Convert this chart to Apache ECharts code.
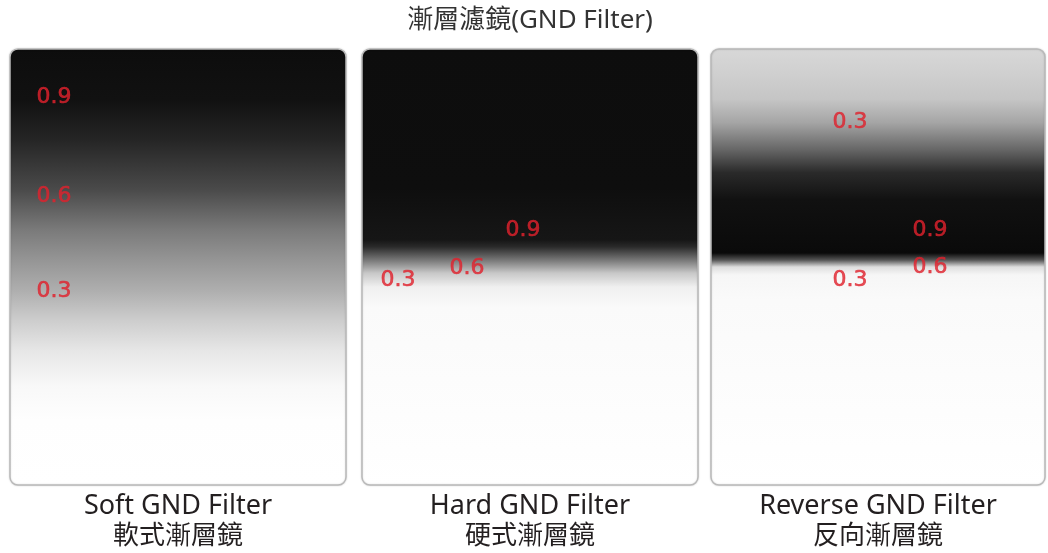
<!DOCTYPE html>
<html><head><meta charset="utf-8">
<script src="https://cdn.jsdelivr.net/npm/echarts@6/dist/echarts.min.js"></script>
<style>html,body{margin:0;padding:0;background:#fff}#c{width:1048px;height:553px}</style>
</head><body><div id="c"></div>
<script>
// ---- data ----
const chartTitle = '漸層濾鏡(GND Filter)';
const filterNames = ['Soft GND Filter', 'Hard GND Filter', 'Reverse GND Filter'];
const filterNamesZh = ['軟式漸層鏡', '硬式漸層鏡', '反向漸層鏡'];
// gradient stops: [position from top (0..1), grey level]
const softStops = [[0, '#0d0d0d'], [0.117, '#111111'], [0.209, '#252525'], [0.323, '#4a4a4a'], [0.415, '#7a7a7a'], [0.484, '#959595'], [0.553, '#aeaeae'], [0.622, '#cdcdcd'], [0.69, '#e6e6e6'], [0.77, '#f8f8f8'], [0.85, '#fefefe'], [1, '#ffffff']];
const hardStops = [[0, '#0d0d0d'], [0.32, '#0e0e0e'], [0.438, '#161616'], [0.454, '#2a2a2a'], [0.484, '#777777'], [0.514, '#c8c8c8'], [0.546, '#f0f0f0'], [0.592, '#fafafa'], [1, '#ffffff']];
const reverseStops = [[0, '#d8d8d8'], [0.055, '#d0d0d0'], [0.117, '#c5c5c5'], [0.17, '#a5a5a5'], [0.232, '#666666'], [0.284, '#2a2a2a'], [0.346, '#111111'], [0.468, '#0a0a0a'], [0.484, '#555555'], [0.5, '#dedede'], [0.518, '#f6f6f6'], [0.576, '#fafafa'], [1, '#ffffff']];
// density labels: [x (0..1), y from top (0..1), text]
const softLabels = [[0.131, 0.11, '0.9'], [0.131, 0.337, '0.6'], [0.131, 0.555, '0.3']];
const hardLabels = [[0.107, 0.53, '0.3'], [0.3125, 0.502, '0.6'], [0.479, 0.415, '0.9']];
const reverseLabels = [[0.416, 0.167, '0.3'], [0.656, 0.415, '0.9'], [0.656, 0.5, '0.6'], [0.416, 0.53, '0.3']];

const allStops = [softStops, hardStops, reverseStops];
const allLabels = [softLabels, hardLabels, reverseLabels];

// ---- layout ----
const grids = [
  {left: 10, top: 49, width: 336, height: 436},
  {left: 362, top: 49, width: 336, height: 436},
  {left: 711, top: 49, width: 334, height: 436}
];

const chart = echarts.init(document.getElementById('c'));
const series = [];
allStops.forEach((stops, i) => {
  series.push({
    type: 'custom', xAxisIndex: i, yAxisIndex: i, silent: true,
    data: [[0, 0, 1, 1]],
    renderItem: function (params, api) {
      const p0 = api.coord([api.value(0), api.value(1)]);
      const p1 = api.coord([api.value(2), api.value(3)]);
      return {
        type: 'rect',
        shape: {x: p0[0], y: p0[1], width: p1[0] - p0[0], height: p1[1] - p0[1], r: 8},
        style: {
          fill: new echarts.graphic.LinearGradient(0, 0, 0, 1, stops.map(s => ({offset: s[0], color: s[1]}))),
          stroke: '#b9b9b9', lineWidth: 1.5,
          shadowBlur: 2, shadowColor: 'rgba(0,0,0,0.15)'
        }
      };
    }
  });
  series.push({
    type: 'scatter', xAxisIndex: i, yAxisIndex: i, silent: true,
    symbolSize: 0,
    data: allLabels[i].map(l => ({value: [l[0], l[1]], name: l[2]})),
    label: {
      show: true, position: 'inside', formatter: '{b}',
      color: '#e0222d', fontSize: 22, fontFamily: 'DejaVu Sans',
      textBorderColor: '#e0222d', textBorderWidth: 0.6
    },
    z: 5
  });
});

const cjk = '"Noto Sans", "Noto Sans CJK TC", sans-serif';
const graphics = [{
  type: 'text', x: 530, y: 21,
  style: {text: chartTitle, fontSize: 26, fontFamily: cjk, fill: '#333', textAlign: 'center', textVerticalAlign: 'middle'}
}];
filterNames.forEach((n, i) => {
  const cx = grids[i].left + grids[i].width / 2;
  graphics.push({type: 'text', x: cx, y: 506,
    style: {text: n, fontSize: 27, fontFamily: cjk, fill: '#231f20', textAlign: 'center', textVerticalAlign: 'middle'}});
  graphics.push({type: 'text', x: cx, y: 537,
    style: {text: filterNamesZh[i], fontSize: 26, fontFamily: cjk, fill: '#231f20', textAlign: 'center', textVerticalAlign: 'middle'}});
});

chart.setOption({
  animation: false,
  backgroundColor: '#fff',
  grid: grids,
  xAxis: grids.map((g, i) => ({type: 'value', gridIndex: i, min: 0, max: 1, show: false})),
  yAxis: grids.map((g, i) => ({type: 'value', gridIndex: i, min: 0, max: 1, inverse: true, show: false})),
  series: series,
  graphic: graphics
});
</script></body></html>
